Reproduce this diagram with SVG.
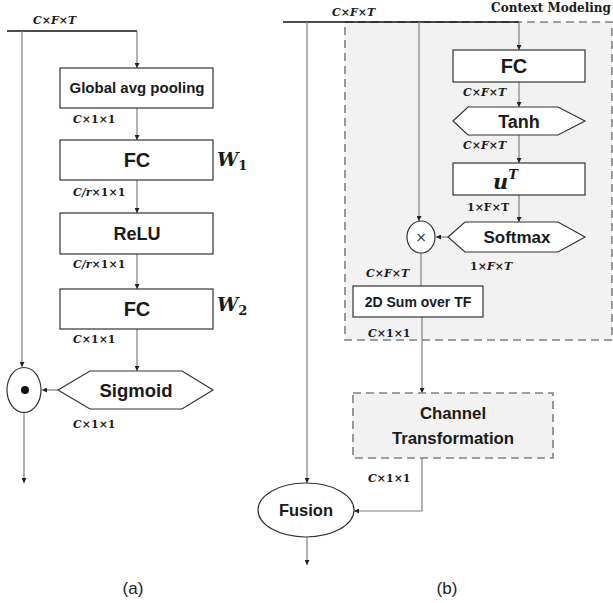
<svg xmlns="http://www.w3.org/2000/svg" width="613" height="603" viewBox="0 0 613 603">
<defs>
<marker id="ah" viewBox="0 0 10 10" refX="10" refY="5" markerWidth="5" markerHeight="5" orient="auto" markerUnits="userSpaceOnUse"><path d="M0,0 L10,5 L0,10 z" fill="#222"/></marker>
</defs>
<style>
.box{fill:#fff;stroke:#333;stroke-width:1.2}
.dash{fill:#f2f2f2;stroke:#808080;stroke-width:1.6;stroke-dasharray:8,5}
.ln{fill:none;stroke:#7f7f7f;stroke-width:1.2}
.top{fill:none;stroke:#111;stroke-width:1.4}
.t{font-family:"Liberation Sans",Arial,sans-serif;font-weight:bold;fill:#1a1a1a;text-anchor:middle}
.m{font-family:"DejaVu Serif","Liberation Serif",serif;font-weight:bold;font-style:italic;font-size:11px;fill:#1a1a1a}
.up{font-style:normal}
.big{font-size:19px}
.sub{font-size:13px;font-style:normal}
.cap{font-family:"Liberation Sans",Arial,sans-serif;font-size:17px;fill:#222;text-anchor:middle}
</style>

<!-- Context modeling background -->
<g id="context-modeling">
<rect class="dash" x="345" y="22" width="267" height="318"/>
<text x="611" y="12" font-family="DejaVu Serif,Liberation Serif,serif" font-weight="bold" font-size="12" fill="#1a1a1a" text-anchor="end">Context Modeling</text>
</g>

<g id="connectors">
<!-- (a) -->
<path class="top" d="M7,31 H137"/>
<path class="ln" d="M137,31 V68" marker-end="url(#ah)"/>
<path class="ln" d="M22,31 V367" marker-end="url(#ah)"/>
<path class="ln" d="M137,108 V140" marker-end="url(#ah)"/>
<path class="ln" d="M137,180 V213" marker-end="url(#ah)"/>
<path class="ln" d="M137,254 V289" marker-end="url(#ah)"/>
<path class="ln" d="M137,329 V371" marker-end="url(#ah)"/>
<path class="ln" d="M58,390 H42" marker-end="url(#ah)"/>
<path class="ln" d="M24,412 V483" marker-end="url(#ah)"/>
<!-- (b) -->
<path class="top" d="M283,22 H519"/>
<path class="ln" d="M307,22 V483" marker-end="url(#ah)"/>
<path class="ln" d="M419,22 V221" marker-end="url(#ah)"/>
<path class="ln" d="M519,22 V50" marker-end="url(#ah)"/>
<path class="ln" d="M519,82 V107" marker-end="url(#ah)"/>
<path class="ln" d="M519,135 V163" marker-end="url(#ah)"/>
<path class="ln" d="M519,195 V222" marker-end="url(#ah)"/>
<path class="ln" d="M448,237 H436" marker-end="url(#ah)"/>
<path class="ln" d="M421,253 V286"/>
<path class="ln" d="M422,317 V393" marker-end="url(#ah)"/>
<path class="ln" d="M422,458 V511 H354" marker-end="url(#ah)"/>
<path class="ln" d="M307,537 V565" marker-end="url(#ah)"/>
</g>

<!-- (a) nodes -->
<g id="gap"><rect class="box" x="60" y="68" width="153" height="40"/><text class="t" x="137" y="93" font-size="15">Global avg pooling</text></g>
<g id="fc1"><rect class="box" x="60" y="140" width="153" height="40"/><text class="t" x="137" y="167" font-size="20">FC</text></g>
<g id="relu"><rect class="box" x="60" y="213" width="153" height="41"/><text class="t" x="137" y="240" font-size="18">ReLU</text></g>
<g id="fc2"><rect class="box" x="60" y="289" width="153" height="40"/><text class="t" x="137" y="316" font-size="20">FC</text></g>
<g id="sigmoid"><polygon class="box" points="58,390 90,371 182,371 213,390 182,409 90,409"/><text class="t" x="136" y="397" font-size="18.5">Sigmoid</text></g>
<g id="mult-a"><ellipse class="box" cx="24" cy="390" rx="17" ry="22.5"/><circle cx="25" cy="390" r="4" fill="#111"/></g>

<g id="labels-a">
<text class="m" x="33" y="24">C×F×T</text>
<text class="m" x="73" y="123">C<tspan class="up">×1×1</tspan></text>
<text class="m" x="73" y="196">C/r<tspan class="up">×1×1</tspan></text>
<text class="m" x="73" y="268">C/r<tspan class="up">×1×1</tspan></text>
<text class="m" x="73" y="343">C<tspan class="up">×1×1</tspan></text>
<text class="m" x="73" y="428">C<tspan class="up">×1×1</tspan></text>
<text class="m big" x="217" y="166">W<tspan class="sub" dy="4">1</tspan></text>
<text class="m big" x="217" y="311">W<tspan class="sub" dy="4">2</tspan></text>
<text class="cap" x="133" y="594">(a)</text>
</g>

<!-- (b) nodes -->
<g id="fc-b"><rect class="box" x="453" y="50" width="132" height="32"/><text class="t" x="514" y="73" font-size="20">FC</text></g>
<g id="tanh"><polygon class="box" points="453,121 468,107 558,107 585,121 558,135 468,135"/><text class="t" x="519" y="128" font-size="18">Tanh</text></g>
<g id="ut"><rect class="box" x="453" y="163" width="132" height="32"/><text class="m" x="493" y="189" style="font-size:21px">u<tspan style="font-size:13px" dy="-10">T</tspan></text></g>
<g id="softmax"><polygon class="box" points="448,237 465,222 558,222 585,237 558,252 465,252"/><text class="t" x="517" y="243" font-size="17">Softmax</text></g>
<g id="mult-b"><ellipse class="box" cx="421" cy="237" rx="14" ry="16"/><text x="421" y="242" font-family="DejaVu Sans,sans-serif" font-size="14" fill="#333" text-anchor="middle">×</text></g>
<g id="sum"><rect class="box" x="353" y="286" width="130" height="31"/><text class="t" x="418" y="307" font-size="14">2D Sum over TF</text></g>
<g id="channel"><rect class="dash" x="353" y="393" width="200" height="65"/><text class="t" x="453" y="419" font-size="16.8">Channel</text><text class="t" x="453" y="444" font-size="16.8">Transformation</text></g>
<g id="fusion"><ellipse class="box" cx="306" cy="510" rx="48" ry="27"/><text class="t" x="306" y="516" font-size="16.5">Fusion</text></g>

<g id="labels-b">
<text class="m" x="332" y="16">C×F×T</text>
<text class="m" x="463" y="96">C×F×T</text>
<text class="m" x="463" y="149">C×F×T</text>
<text class="m up" x="467" y="211">1×F×T</text>
<text class="m" x="470" y="270"><tspan class="up">1×</tspan>F×T</text>
<text class="m" x="366" y="277">C×F×T</text>
<text class="m" x="368" y="337">C<tspan class="up">×1×1</tspan></text>
<text class="m" x="368" y="482">C<tspan class="up">×1×1</tspan></text>
<text class="cap" x="447" y="594">(b)</text>
</g>
</svg>
